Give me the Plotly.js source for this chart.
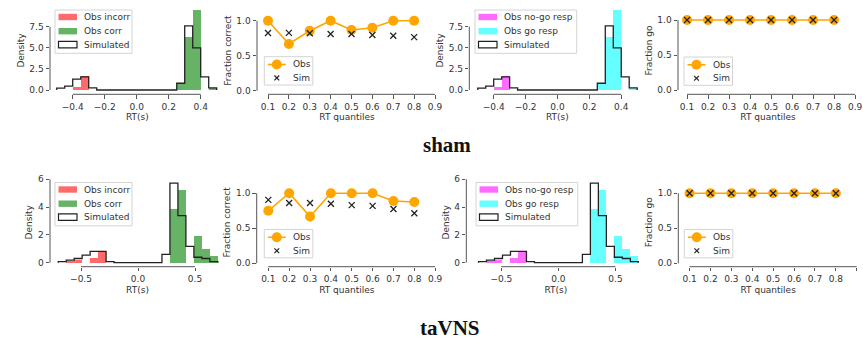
<!DOCTYPE html>
<html><head><meta charset="utf-8">
<script src="https://cdn.plot.ly/plotly-3.0.1.min.js"></script>
<style>html,body{margin:0;padding:0;background:#fff;}#chart{width:863px;height:348px;}</style>
</head><body><div id="chart"></div>
<script>
// ---------------- data ----------------
// sham: RT histograms, 20 bins from -0.5 s to 0.5 s (negative RT = incorrect / no-go response)
const shamBinStart = -0.5;
const shamBinWidth = 0.05;
const shamSim       = [0.22,0.45,1.28,1.55,0.25,0,0,0,0,0,0,0,0,0,0,0.8,7.6,5.0,1.55,0.25];
const shamObsIncorr = [0,0,0.35,1.65,0,0,0,0,0,0,0,0,0,0,0,0,0,0,0,0];
const shamObsCorr   = [0,0,0,0,0,0,0,0,0,0,0,0,0,0,0,0.75,6.3,9.45,0,0.28];
// taVNS: RT histograms, 20 bins from -0.7 s to 0.7 s
const tavnsBinStart = -0.7;
const tavnsBinWidth = 0.07;
const tavnsSim       = [0.08,0.18,0.3,0.54,0.82,0.82,0.08,0,0,0,0,0,0,0.6,5.72,3.38,1.17,0.39,0.3,0.08];
const tavnsObsIncorr = [0,0.15,0.17,0,0.35,0.85,0,0,0,0,0,0,0,0,0,0,0,0,0,0];
const tavnsObsCorr   = [0,0,0,0,0,0,0,0,0,0,0,0,0,0,3.88,5.2,0,1.9,0.95,0.5];
// quantile plots
const quantiles = [0.1,0.2,0.3,0.4,0.5,0.6,0.7,0.8];
const shamFracCorrObs  = [1.0,0.667,0.857,1.0,0.867,0.9,1.0,1.0];
const shamFracCorrSim  = [0.824,0.826,0.82,0.81,0.81,0.795,0.786,0.765];
const shamFracGoObs    = [1,1,1,1,1,1,1,1];
const shamFracGoSim    = [1,1,1,1,1,1,1,1];
const tavnsFracCorrObs = [0.75,1.0,0.667,1.0,1.0,1.0,0.889,0.875];
const tavnsFracCorrSim = [0.905,0.86,0.86,0.85,0.83,0.82,0.776,0.714];
const tavnsFracGoObs   = [1,1,1,1,1,1,1,1];
const tavnsFracGoSim   = [1,1,1,1,1,1,1,1];
// tick labels
const shamHistXTicks  = [-0.4,-0.2,0.0,0.2,0.4];
const shamHistYTicks  = [0,2.5,5,7.5];
const tavnsHistXTicks = [-0.5,0.0,0.5];
const tavnsHistYTicks = [0,2,4,6];
const quantXTicks = [0.1,0.2,0.3,0.4,0.5,0.6,0.7,0.8,0.9];
const quantYTicks = [0,0.5,1.0];
const rowTitles = ['sham','taVNS'];
const simName = 'Simulated';
const quantNames = ['Obs','Sim'];

// ---------------- style / layout ----------------
const W = 863, H = 348;
const FONT = 'DejaVu Sans, Verdana, sans-serif';
const TXT = '#333';
const AX = '#555';
const ORANGE = '#FFA500';
const px = v => v / W;
const py = v => 1 - v / H;

const panels = [
  {kind:'hist', box:[50,224.7,6.7,94.3], xr:[-0.542,0.55], yr:[-0.51,9.87], xt:shamHistXTicks, yt:shamHistYTicks, yf:'.1f',
   bs:shamBinStart, bw:shamBinWidth, sim:shamSim, a:shamObsIncorr, b:shamObsCorr,
   names:['Obs incorr','Obs corr'], colors:['rgba(255,0,0,0.58)','rgba(0,128,0,0.6)'], leg:[55,10,77]},
  {kind:'quant', box:[257,437,6.7,94.3], xr:[0.0473,0.9096], yr:[-0.051,1.2], obs:shamFracCorrObs, sim:shamFracCorrSim,
   ytitle:'Fraction correct', leg:[264.3,56.7]},
  {kind:'hist', box:[469.3,645.3,6.7,94.3], xr:[-0.553,0.551], yr:[-0.51,9.87], xt:shamHistXTicks, yt:shamHistYTicks, yf:'.1f',
   bs:shamBinStart, bw:shamBinWidth, sim:shamSim, a:shamObsIncorr, b:shamObsCorr,
   names:['Obs no-go resp','Obs go resp'], colors:['rgba(255,0,255,0.58)','rgba(0,255,255,0.6)'], leg:[475,10,101.7]},
  {kind:'quant', box:[678,858,6.7,94.3], xr:[0.057,0.914], yr:[-0.06,1.19], obs:shamFracGoObs, sim:shamFracGoSim,
   ytitle:'Fraction go', leg:[684,57]},
  {kind:'hist', box:[50,225,178,266.7], xr:[-0.772,0.763], yr:[-0.288,6.09], xt:tavnsHistXTicks, yt:tavnsHistYTicks, yf:'d',
   bs:tavnsBinStart, bw:tavnsBinWidth, sim:tavnsSim, a:tavnsObsIncorr, b:tavnsObsCorr,
   names:['Obs incorr','Obs corr'], colors:['rgba(255,0,0,0.58)','rgba(0,128,0,0.6)'], leg:[55,182.5,77]},
  {kind:'quant', box:[256.7,437,178,266.7], xr:[0.0444,0.9087], yr:[-0.048,1.217], obs:tavnsFracCorrObs, sim:tavnsFracCorrSim,
   ytitle:'Fraction correct', leg:[264.3,229.5]},
  {kind:'hist', box:[466.3,645.3,178,266.7], xr:[-0.807,0.761], yr:[-0.288,6.09], xt:tavnsHistXTicks, yt:tavnsHistYTicks, yf:'d',
   bs:tavnsBinStart, bw:tavnsBinWidth, sim:tavnsSim, a:tavnsObsIncorr, b:tavnsObsCorr,
   names:['Obs no-go resp','Obs go resp'], colors:['rgba(255,0,255,0.58)','rgba(0,255,255,0.6)'], leg:[476,182.5,101.7]},
  {kind:'quant', box:[678.3,858,178,266.7], xr:[0.046,0.906], yr:[-0.048,1.217], obs:tavnsFracGoObs, sim:tavnsFracGoSim,
   ytitle:'Fraction go', leg:[684.3,229.5]}
];

const traces = [];
const layout = {
  width:W, height:H, margin:{l:0,r:0,t:0,b:0},
  paper_bgcolor:'#fff', plot_bgcolor:'rgba(0,0,0,0)',
  barmode:'overlay', bargap:0, showlegend:false,
  font:{family:FONT, size:9, color:TXT},
  shapes:[], annotations:[]
};

function legendText(x, y, text) {
  layout.annotations.push({text:text, xref:'paper', yref:'paper', x:px(x), y:py(y), xanchor:'left', yanchor:'middle',
    showarrow:false, font:{family:FONT,size:9,color:TXT}});
}
function legendBox(x, y, w, h) {
  layout.shapes.push({type:'rect', xref:'paper', yref:'paper', x0:px(x), x1:px(x+w), y0:py(y), y1:py(y+h),
    line:{color:'#d4d4d4', width:1}, fillcolor:'rgba(255,255,255,0.85)', layer:'above'});
}
function histLegend(p) {
  const [lx, ty, w] = p.leg;
  legendBox(lx, ty, w, 43.3);
  const rows = [7, 21.2, 34.6];
  const fills = [p.colors[0], p.colors[1], 'rgba(255,255,255,0)'];
  const lines = [0, 0, 1.2];
  const labels = [p.names[0], p.names[1], simName];
  rows.forEach((ry, k) => {
    const cy = ty + ry;
    layout.shapes.push({type:'rect', xref:'paper', yref:'paper', x0:px(lx+3.5), x1:px(lx+22), y0:py(cy-3.2), y1:py(cy+3.2),
      fillcolor:fills[k], line:{color:'#222', width:lines[k]}, layer:'above'});
    legendText(lx+26.5, cy, labels[k]);
  });
}
function quantLegend(p) {
  const [lx, ty] = p.leg;
  legendBox(lx, ty, 48.5, 28.3);
  const cx = lx + 12.5, c0 = ty + 7.8, c1 = ty + 21.2;
  layout.shapes.push({type:'line', xref:'paper', yref:'paper', x0:px(lx+3.5), x1:px(lx+21.5), y0:py(c0), y1:py(c0),
    line:{color:ORANGE, width:1.6}, layer:'above'});
  layout.shapes.push({type:'circle', xref:'paper', yref:'paper', x0:px(cx-5), x1:px(cx+5), y0:py(c0-5), y1:py(c0+5),
    fillcolor:ORANGE, line:{color:ORANGE, width:0}, layer:'above'});
  const d = 2.4;
  layout.shapes.push({type:'line', xref:'paper', yref:'paper', x0:px(cx-d), x1:px(cx+d), y0:py(c1-d), y1:py(c1+d),
    line:{color:'#222', width:1.2}, layer:'above'});
  layout.shapes.push({type:'line', xref:'paper', yref:'paper', x0:px(cx-d), x1:px(cx+d), y0:py(c1+d), y1:py(c1-d),
    line:{color:'#222', width:1.2}, layer:'above'});
  legendText(lx+26.5, c0, quantNames[0]);
  legendText(lx+26.5, c1, quantNames[1]);
}

panels.forEach((p,i)=>{
  const s = i===0 ? '' : String(i+1);
  const xa = 'x'+s, ya = 'y'+s;
  const [l,r,t,b] = p.box;
  const isHist = p.kind==='hist';
  const xt = isHist ? p.xt : quantXTicks;
  const yt = isHist ? p.yt : quantYTicks;
  layout['xaxis'+s] = {
    domain:[l/W, r/W], range:p.xr, anchor:ya, fixedrange:true,
    showgrid:false, zeroline:false, showline:false,
    tickmode:'array', tickvals:xt, tickformat:'.1f',
    ticks:'outside', ticklen:3.5, tickwidth:1, tickcolor:AX,
    tickfont:{family:FONT,size:9,color:TXT},
    title:{text: isHist ? 'RT(s)' : 'RT quantiles', font:{family:FONT,size:9,color:TXT}, standoff:3}
  };
  layout['yaxis'+s] = {
    domain:[1-b/H, 1-t/H], range:p.yr, anchor:xa, fixedrange:true,
    showgrid:false, zeroline:false, showline:false,
    tickmode:'array', tickvals:yt, tickformat: isHist ? p.yf : '.1f',
    ticks:'outside', ticklen:3.5, tickwidth:1, tickcolor:AX,
    tickfont:{family:FONT,size:9,color:TXT},
    title:{text: isHist ? 'Density' : p.ytitle, font:{family:FONT,size:9,color:TXT}, standoff:3}
  };
  // trimmed spines (from first to last tick)
  layout.shapes.push({type:'line', xref:xa, yref:ya+' domain', x0:xt[0], x1:xt[xt.length-1], y0:0, y1:0, line:{color:AX,width:1}});
  layout.shapes.push({type:'line', xref:xa+' domain', yref:ya, x0:0, x1:0, y0:yt[0], y1:yt[yt.length-1], line:{color:AX,width:1}});

  if (isHist) {
    const n = p.sim.length;
    const edges = [], centers = [];
    for (let k=0;k<=n;k++) edges.push(+(p.bs + k*p.bw).toFixed(4));
    for (let k=0;k<n;k++) centers.push(+(edges[k]+p.bw/2).toFixed(4));
    [p.a, p.b].forEach((vals,j)=>{
      traces.push({type:'bar', x:centers, y:vals, width:p.bw, xaxis:xa, yaxis:ya,
        name:p.names[j], marker:{color:p.colors[j], line:{width:0}}, hoverinfo:'skip'});
    });
    // simulated histogram drawn as a step outline
    const sx=[edges[0]], sy=[0];
    for (let k=0;k<n;k++){ sx.push(edges[k], edges[k+1]); sy.push(p.sim[k], p.sim[k]); }
    sx.push(edges[n]); sy.push(0);
    traces.push({type:'scatter', mode:'lines', x:sx, y:sy, xaxis:xa, yaxis:ya, name:simName,
      line:{color:'#222', width:1.3}, hoverinfo:'skip'});
    histLegend(p);
  } else {
    traces.push({type:'scatter', mode:'lines+markers', x:quantiles, y:p.obs, xaxis:xa, yaxis:ya,
      name:quantNames[0], line:{color:ORANGE, width:1.6}, marker:{color:ORANGE, size:10}, hoverinfo:'skip', cliponaxis:false});
    traces.push({type:'scatter', mode:'markers', x:quantiles, y:p.sim, xaxis:xa, yaxis:ya,
      name:quantNames[1], marker:{symbol:'x-thin', size:6, color:'#222', line:{color:'#222', width:1.3}}, hoverinfo:'skip', cliponaxis:false});
    quantLegend(p);
  }
});

layout.annotations.push({text:'<b>'+rowTitles[0]+'</b>', xref:'paper', yref:'paper', x:px(447), y:py(145),
  xanchor:'center', yanchor:'middle', showarrow:false, font:{family:'Liberation Serif, Times New Roman, serif', size:21, color:'#111'}});
layout.annotations.push({text:'<b>'+rowTitles[1]+'</b>', xref:'paper', yref:'paper', x:px(450), y:py(328),
  xanchor:'center', yanchor:'middle', showarrow:false, font:{family:'Liberation Serif, Times New Roman, serif', size:21, color:'#111'}});

Plotly.newPlot('chart', traces, layout, {staticPlot:true, displayModeBar:false});
</script></body></html>
